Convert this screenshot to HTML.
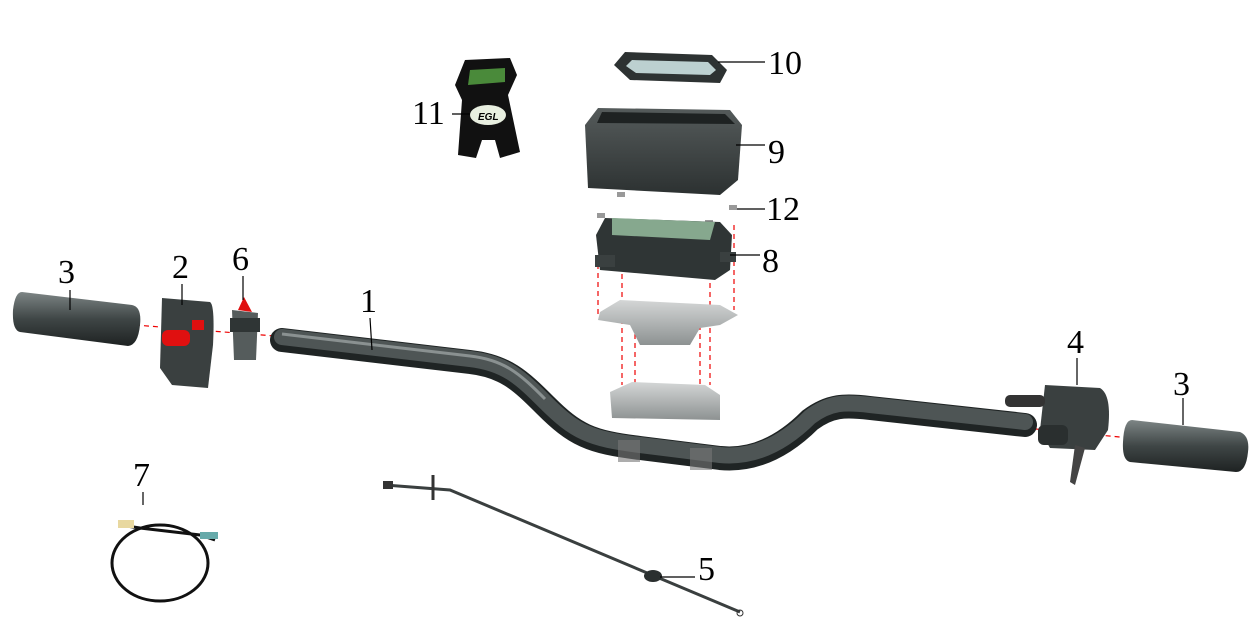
<!DOCTYPE html>
<html><head><meta charset="utf-8"><style>
html,body{margin:0;padding:0;background:#fff;}
svg{display:block}
text{font-family:"Liberation Serif",serif;font-size:34px;fill:#000}
</style></head><body>
<svg width="1252" height="619" viewBox="0 0 1252 619" xmlns="http://www.w3.org/2000/svg">
<defs>
<linearGradient id="tube" x1="0" y1="0" x2="0" y2="1">
<stop offset="0" stop-color="#8a9090"/><stop offset="0.4" stop-color="#4a5050"/><stop offset="1" stop-color="#1f2424"/></linearGradient>
<linearGradient id="grip" x1="0" y1="0" x2="0" y2="1">
<stop offset="0" stop-color="#7d8585"/><stop offset="0.5" stop-color="#3f4646"/><stop offset="1" stop-color="#1e2222"/></linearGradient>
<linearGradient id="box" x1="0" y1="0" x2="0" y2="1">
<stop offset="0" stop-color="#555b5b"/><stop offset="1" stop-color="#2c3131"/></linearGradient>
<linearGradient id="clamp" x1="0" y1="0" x2="0" y2="1">
<stop offset="0" stop-color="#d4d6d6"/><stop offset="1" stop-color="#8d9292"/></linearGradient>
</defs>

<!-- red dashed lines -->
<g stroke="#e00" stroke-width="1.2" stroke-dasharray="5,4" fill="none">
<line x1="135" y1="325" x2="275" y2="336"/>
<line x1="598" y1="255" x2="598" y2="315"/>
<line x1="622" y1="265" x2="622" y2="385"/>
<line x1="635" y1="325" x2="635" y2="390"/>
<line x1="700" y1="325" x2="700" y2="390"/>
<line x1="710" y1="265" x2="710" y2="385"/>
<line x1="734" y1="225" x2="734" y2="310"/>
<line x1="1025" y1="428" x2="1130" y2="438"/>
</g>

<!-- handlebar -->
<path d="M282,340 L470,362 C505,366 520,380 545,405 C575,435 590,442 640,448 L720,458 C760,462 790,440 810,420 C830,405 845,405 870,408 L1025,425"
 fill="none" stroke="#1f2424" stroke-width="24" stroke-linecap="round"/>
<path d="M282,340 L470,362 C505,366 520,380 545,405 C575,435 590,442 640,448 L720,458 C760,462 790,440 810,420 C830,405 845,405 870,408 L1025,425"
 fill="none" stroke="#4e5555" stroke-width="16" stroke-linecap="round" transform="translate(0,-3)"/>
<path d="M282,334 L470,356 C505,360 520,374 545,399" fill="none" stroke="#8a9191" stroke-width="3"/>
<rect x="618" y="440" width="22" height="22" fill="#777" opacity="0.6"/>
<rect x="690" y="448" width="22" height="22" fill="#777" opacity="0.6"/>

<!-- left grip -->
<path d="M22,292 L132,305 Q142,307 140,325 Q138,345 128,346 L20,332 Q12,330 13,310 Q15,292 22,292Z" fill="url(#grip)"/>
<!-- part 2 switch -->
<path d="M162,298 L210,302 Q215,305 213,345 L208,388 L172,385 L160,368 Z" fill="#3a4040"/>
<rect x="162" y="330" width="28" height="16" rx="6" fill="#e01010"/>
<rect x="192" y="320" width="12" height="10" fill="#e01010"/>
<!-- part 6 -->
<path d="M232,310 L258,313 L256,360 L234,360 Z" fill="#555c5c"/>
<path d="M238,310 L244,297 L252,312 Z" fill="#e01010"/>
<rect x="230" y="318" width="30" height="14" fill="#2f3535"/>

<!-- right grip -->
<path d="M1132,420 L1240,432 Q1250,436 1248,452 Q1246,472 1236,472 L1130,462 Q1122,460 1123,442 Q1124,420 1132,420Z" fill="url(#grip)"/>
<!-- part 4 -->
<path d="M1045,385 L1100,388 Q1112,395 1108,430 L1095,450 L1050,448 L1040,430 Z" fill="#3a4040"/>
<rect x="1005" y="395" width="40" height="12" rx="5" fill="#333"/>
<rect x="1038" y="425" width="30" height="20" rx="6" fill="#2a2f2f"/>
<path d="M1075,445 L1085,448 L1075,485 L1070,482 Z" fill="#444"/>

<!-- cable 5 -->
<path d="M385,485 L450,490 L740,612" fill="none" stroke="#3a3f3f" stroke-width="3"/>
<rect x="383" y="481" width="10" height="8" fill="#333"/>
<line x1="433" y1="475" x2="433" y2="500" stroke="#333" stroke-width="3"/>
<ellipse cx="653" cy="576" rx="9" ry="6" fill="#2a2f2f"/>
<circle cx="740" cy="613" r="3" fill="none" stroke="#333"/>

<!-- part 7 wire -->
<ellipse cx="160" cy="563" rx="48" ry="38" fill="none" stroke="#111" stroke-width="3"/>
<path d="M120,525 L140,528 L200,535 L215,540" stroke="#111" stroke-width="3" fill="none"/>
<rect x="118" y="520" width="16" height="8" fill="#e8d8a0"/>
<rect x="200" y="532" width="18" height="7" fill="#6aa"/>

<!-- part 11 sticker -->
<path d="M465,60 L510,58 L517,75 L508,95 L520,152 L500,158 L495,140 L482,140 L476,158 L458,155 L462,100 L455,85Z" fill="#111"/>
<path d="M470,70 L505,68 L505,82 L468,85Z" fill="#4a8a3a"/>
<ellipse cx="488" cy="115" rx="18" ry="10" fill="#e8efe0"/>
<text x="478" y="120" style="font-size:10px;font-family:'Liberation Sans',sans-serif;font-style:italic;font-weight:bold">EGL</text>

<!-- part 10 bezel -->
<path d="M625,52 L712,55 L727,70 L720,83 L630,80 L614,65Z" fill="#2d3232"/>
<path d="M632,60 L708,62 L716,70 L710,75 L636,73 L626,66Z" fill="#bcd0d0"/>

<!-- part 9 -->
<path d="M598,108 L730,110 L742,125 L738,180 L720,195 L588,188 L585,125Z" fill="url(#box)"/>
<path d="M602,112 L725,114 L735,124 L597,123Z" fill="#1e2222"/>

<!-- screws 12 -->
<g fill="#999"><rect x="617" y="192" width="8" height="5"/><rect x="597" y="213" width="8" height="5"/><rect x="705" y="220" width="8" height="5"/><rect x="729" y="205" width="8" height="5"/></g>

<!-- part 8 -->
<path d="M605,218 L720,222 L732,235 L730,270 L715,280 L600,270 L596,235Z" fill="#2f3535"/>
<path d="M612,218 L715,222 L710,240 L612,235Z" fill="#86a88e"/>
<rect x="595" y="255" width="20" height="12" fill="#3a4040"/>
<rect x="720" y="252" width="16" height="10" fill="#3a4040"/>

<!-- clamp upper -->
<path d="M600,312 L620,300 L720,305 L738,315 L720,325 L700,328 L690,345 L640,345 L630,325 L598,320Z" fill="url(#clamp)"/>
<!-- clamp lower -->
<path d="M610,392 L632,382 L705,385 L720,395 L720,420 L612,418Z" fill="url(#clamp)"/>

<!-- leader lines -->
<g stroke="#000" stroke-width="1.2">
<line x1="370" y1="318" x2="372" y2="350"/>
<line x1="182" y1="284" x2="182" y2="305"/>
<line x1="70" y1="290" x2="70" y2="310"/>
<line x1="243" y1="276" x2="243" y2="300"/>
<line x1="143" y1="492" x2="143" y2="505"/>
<line x1="452" y1="114" x2="470" y2="114"/>
<line x1="718" y1="62" x2="765" y2="62"/>
<line x1="736" y1="145" x2="765" y2="145"/>
<line x1="737" y1="209" x2="765" y2="209"/>
<line x1="730" y1="255" x2="760" y2="255"/>
<line x1="1077" y1="358" x2="1077" y2="385"/>
<line x1="1183" y1="398" x2="1183" y2="425"/>
<line x1="660" y1="577" x2="695" y2="577"/>
</g>

<text x="360" y="312">1</text>
<text x="172" y="278">2</text>
<text x="58" y="283">3</text>
<text x="232" y="270">6</text>
<text x="133" y="486">7</text>
<text x="412" y="124">11</text>
<text x="768" y="74">10</text>
<text x="768" y="163">9</text>
<text x="766" y="220">12</text>
<text x="762" y="272">8</text>
<text x="1067" y="353">4</text>
<text x="1173" y="395">3</text>
<text x="698" y="580">5</text>
</svg>
</body></html>
